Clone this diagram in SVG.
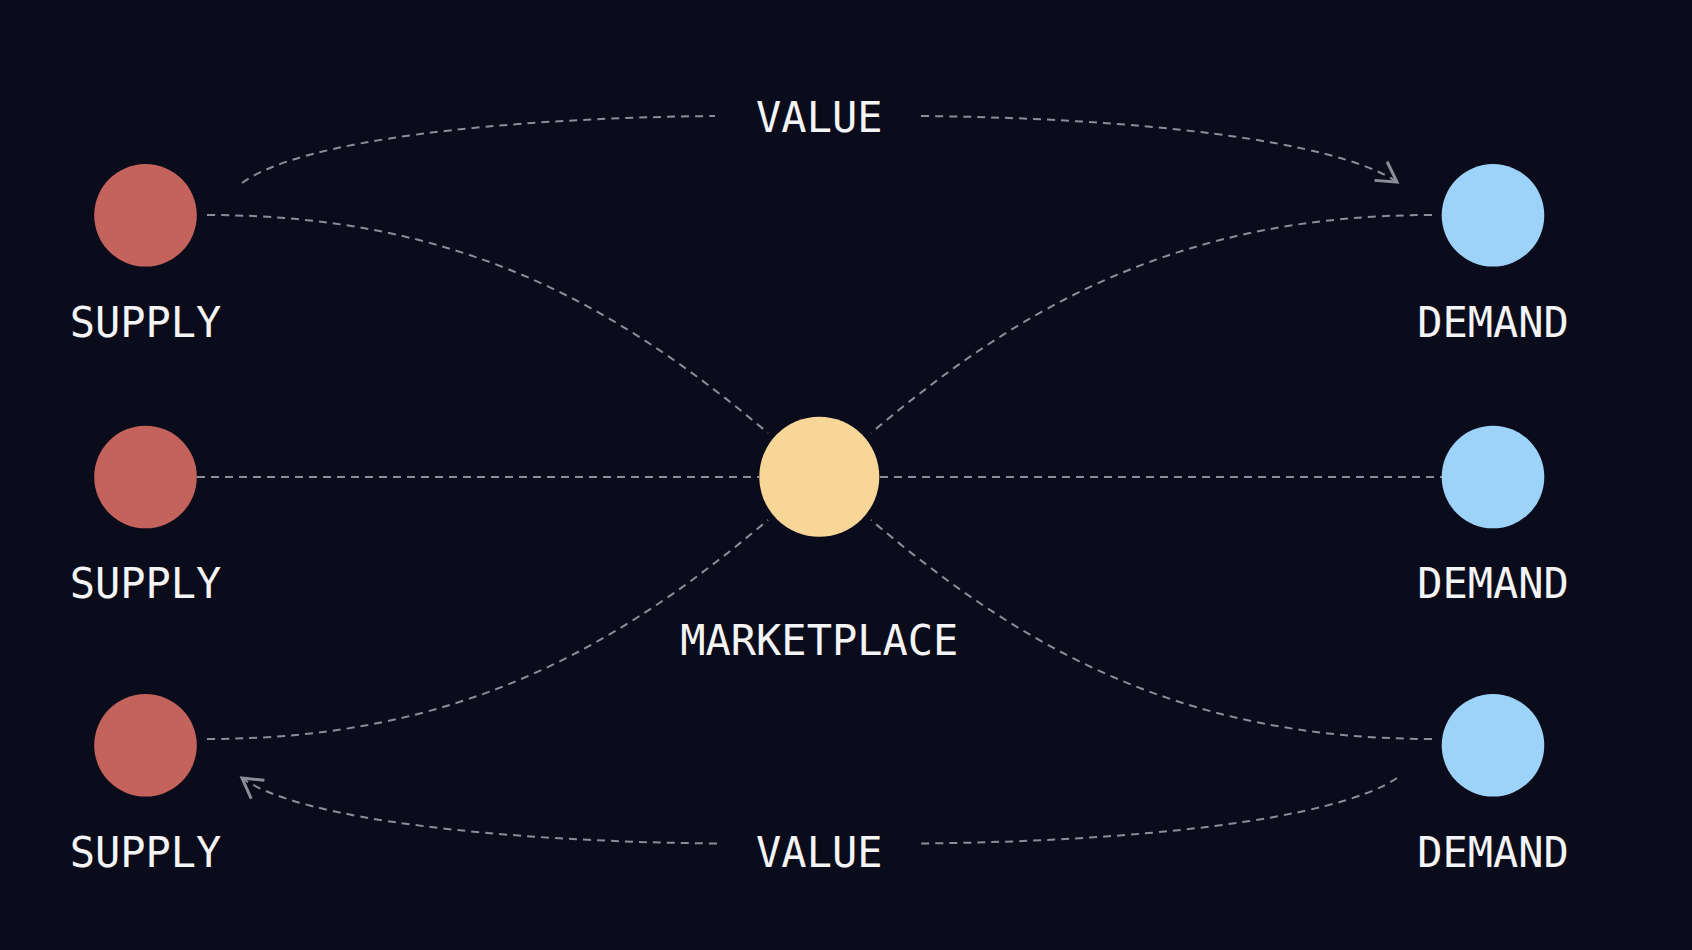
<svg xmlns="http://www.w3.org/2000/svg" width="1692" height="950" viewBox="0 0 1692 950">
<defs>
<style>
.bg{fill:#0b0c1b}
.supply{fill:#c4635b}
.demand{fill:#9dd3f8}
.market{fill:#f7d698}
.lbl{font-family:"DejaVu Sans Mono","Liberation Mono",monospace;font-size:42px;fill:#f4f4f6;text-anchor:middle}
.link{fill:none;stroke:#8a8d9a;stroke-width:2;stroke-dasharray:8 6}
</style>
<marker id="arrow" markerUnits="userSpaceOnUse" markerWidth="30" markerHeight="30" viewBox="-16 -10 20 20" refX="0" refY="0" orient="auto">
<path d="M-13,-7.5 L0,0 L-13,7.5" fill="none" stroke="#8a8d9a" stroke-width="2"/>
</marker>
</defs>
<rect class="bg" x="0" y="0" width="1692" height="950"/>
<g id="connectors">
<path class="link" d="M242,183 C300,140 500,118 715,116"/>
<path class="link" d="M921,116 C1135,118 1335,140 1397,182" marker-end="url(#arrow)"/>
<path class="link" d="M1397,778 C1335,820 1135,841.5 921,843.5"/>
<path class="link" d="M717,843.5 C502,841.5 300,820 242,778" marker-end="url(#arrow)"/>
<path class="link" d="M207,215 C457,215 615,304 768,433"/>
<path class="link" d="M1432,215 C1182,215 1024,304 871,433"/>
<path class="link" d="M207,739 C457,739 615,649 768,520"/>
<path class="link" d="M1432,739 C1182,739 1024,649 871,520"/>
<path class="link" d="M197,477 L759,477"/>
<path class="link" d="M880,477 L1442,477"/>
</g>
<g id="supply1"><circle class="supply" cx="145.5" cy="215.3" r="51.3"/><text class="lbl" x="145.5" y="336.7">SUPPLY</text></g>
<g id="supply2"><circle class="supply" cx="145.5" cy="477" r="51.3"/><text class="lbl" x="145.5" y="598">SUPPLY</text></g>
<g id="supply3"><circle class="supply" cx="145.5" cy="745.3" r="51.3"/><text class="lbl" x="145.5" y="866.7">SUPPLY</text></g>
<g id="demand1"><circle class="demand" cx="1493" cy="215.3" r="51.3"/><text class="lbl" x="1493" y="336.7">DEMAND</text></g>
<g id="demand2"><circle class="demand" cx="1493" cy="477" r="51.3"/><text class="lbl" x="1493" y="598">DEMAND</text></g>
<g id="demand3"><circle class="demand" cx="1493" cy="745.3" r="51.3"/><text class="lbl" x="1493" y="866.7">DEMAND</text></g>
<g id="marketplace"><circle class="market" cx="819.3" cy="476.7" r="60"/><text class="lbl" x="819.3" y="655">MARKETPLACE</text></g>
<g id="value-top"><text class="lbl" x="819.3" y="132.3">VALUE</text></g>
<g id="value-bottom"><text class="lbl" x="819.3" y="866.7">VALUE</text></g>
</svg>
